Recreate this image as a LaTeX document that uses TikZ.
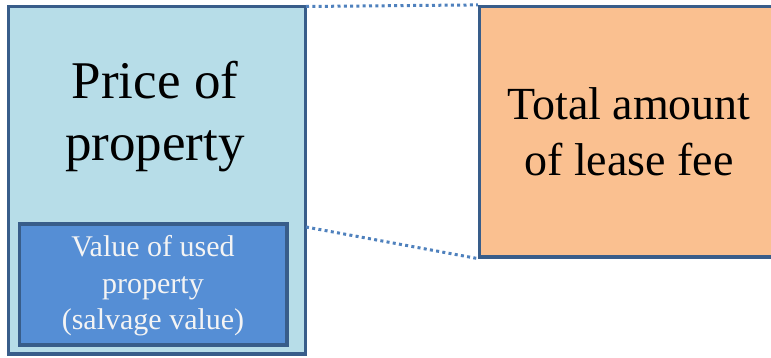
\documentclass[tikz,border=0pt]{standalone}
\usepackage{fontspec}
\setmainfont{Liberation Serif}
\definecolor{paleblue}{HTML}{B7DDE8}
\definecolor{midblue}{HTML}{558ED5}
\definecolor{peach}{HTML}{FAC090}
\definecolor{edgeblue}{HTML}{385D8A}
\definecolor{dotblue}{HTML}{4F81BD}
\definecolor{softwhite}{HTML}{F4F4F4}
\tikzset{
  panel/.style={draw=edgeblue, line width=3.2pt, inner sep=0pt, rectangle},
  guide/.style={draw=dotblue, line width=3pt, line cap=butt, dash pattern=on 3pt off 3.3pt},
}
\begin{document}
\begin{tikzpicture}[x=1pt, y=-1pt]
  \useasboundingbox (0,0) rectangle (771,358);
  \clip (0,0) rectangle (771,358);
  % dotted guides linking the two panels
  \coordinate (lt) at (306,6.5);
  \coordinate (lb) at (306,227);
  % right panel (extends past the right edge)
  \node[panel, fill=peach, minimum width=320pt, minimum height=250.5pt] (lease) at (639.5,131.75) {};
  \node[align=center, font=\fontsize{46}{56}\selectfont] (leasetxt) at (629,132) {Total amount\\of lease fee};
  % left panel
  \node[panel, fill=paleblue, minimum width=297pt, minimum height=347.5pt] (price) at (157,180.25) {};
  \node[align=center, font=\fontsize{53}{62}\selectfont] (pricetxt) at (155,117) {Price of\\property};
  % inner panel
  \node[panel, fill=midblue, minimum width=267.5pt, minimum height=121pt] (salvage) at (153.25,284.5) {};
  \node[align=center, text=softwhite, font=\fontsize{30}{36.5}\selectfont] (salvagetxt) at (153,286) {Value of used\\property\\(salvage value)};
  \draw[guide] (lt) -- (lease.north west);
  \draw[guide] (lb) -- (lease.south west);
\end{tikzpicture}
\end{document}
